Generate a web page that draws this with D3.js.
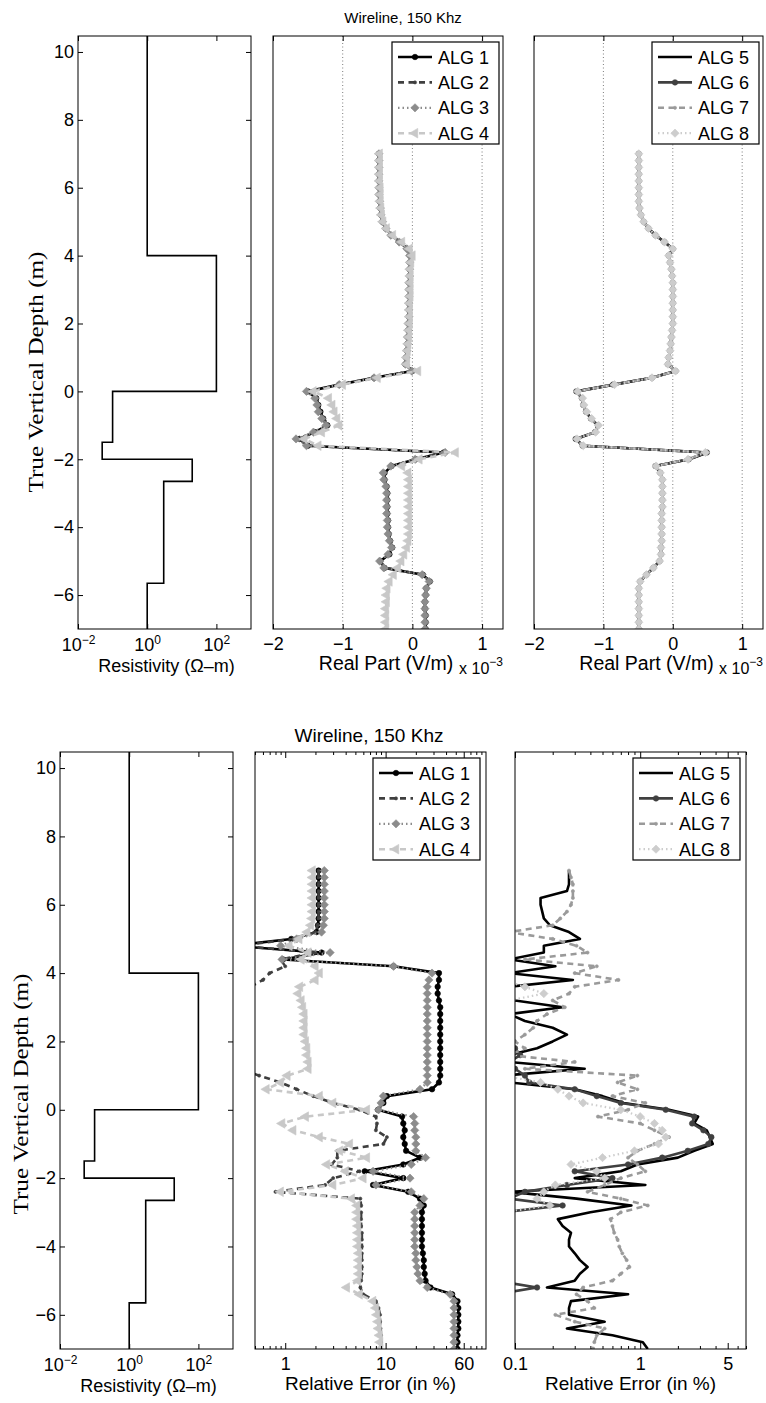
<!DOCTYPE html>
<html>
<head>
<meta charset="utf-8">
<script src="https://cdnjs.cloudflare.com/ajax/libs/d3/7.8.5/d3.min.js"></script>
<style>
  body { margin: 0; background: #fff; }
  svg text { font-family: "Liberation Sans", Arial, Helvetica, sans-serif; fill: #000; }
</style>
</head>
<body>
<svg id="chart" width="766" height="1403"></svg>
<script>
// ---- data ----
const depth = [
  7, 6.8, 6.6, 6.4, 6.2, 6, 5.8, 5.6, 5.4, 5.2,
  5, 4.8, 4.6, 4.4, 4.2, 4, 3.8, 3.6, 3.4, 3.2,
  3, 2.8, 2.6, 2.4, 2.2, 2, 1.8, 1.6, 1.4, 1.2,
  1, 0.8, 0.6, 0.4, 0.2, 0, -0.2, -0.4, -0.6, -0.8,
  -1, -1.2, -1.4, -1.6, -1.8, -2, -2.2, -2.4, -2.6, -2.8,
  -3, -3.2, -3.4, -3.6, -3.8, -4, -4.2, -4.4, -4.6, -4.8,
  -5, -5.2, -5.4, -5.6, -5.8, -6, -6.2, -6.4, -6.6, -6.8,
  -7
];

// resistivity model (layer tops / bottoms in m, resistivity in ohm-m)
const layerTop = [10.5, 4, 0, -1.5, -2, -2.65, -5.65];
const layerBottom = [4, 0, -1.5, -2, -2.65, -5.65, -7];
const layerRes = [1, 100, 0.1, 0.05, 20, 3, 1];

// real part, x 10^-3 V/m
const realAlg1 = [
  -0.48,-0.48,-0.48,-0.48,-0.48,-0.47,-0.47,-0.47,-0.46,-0.45,
  -0.43,-0.38,-0.3,-0.18,-0.07,-0.03,-0.03,-0.04,-0.04,-0.04,
  -0.04,-0.04,-0.05,-0.05,-0.05,-0.05,-0.06,-0.06,-0.07,-0.08,
  -0.09,-0.1,0.0,-0.55,-1.05,-1.5,-1.38,-1.35,-1.32,-1.28,
  -1.22,-1.4,-1.62,-1.5,0.45,0.05,-0.3,-0.4,-0.4,-0.37,
  -0.36,-0.36,-0.36,-0.36,-0.35,-0.35,-0.34,-0.32,-0.29,-0.33,
  -0.46,-0.4,0.15,0.25,0.2,0.19,0.18,0.18,0.19,0.19,
  0.19
];
const realAlg2 = [
  -0.48,-0.48,-0.48,-0.48,-0.48,-0.48,-0.47,-0.47,-0.46,-0.45,
  -0.42,-0.37,-0.3,-0.18,-0.07,-0.03,-0.03,-0.04,-0.04,-0.04,
  -0.04,-0.04,-0.05,-0.05,-0.05,-0.05,-0.06,-0.06,-0.07,-0.08,
  -0.09,-0.1,0.0,-0.54,-1.04,-1.49,-1.37,-1.35,-1.32,-1.27,
  -1.21,-1.41,-1.63,-1.49,0.46,0.06,-0.29,-0.4,-0.4,-0.37,
  -0.36,-0.36,-0.36,-0.36,-0.35,-0.35,-0.34,-0.32,-0.3,-0.34,
  -0.46,-0.39,0.15,0.25,0.2,0.19,0.18,0.18,0.19,0.19,
  0.19
];
const realAlg3 = [
  -0.48,-0.48,-0.48,-0.48,-0.48,-0.48,-0.48,-0.47,-0.46,-0.45,
  -0.43,-0.38,-0.31,-0.19,-0.08,-0.04,-0.04,-0.04,-0.04,-0.05,
  -0.05,-0.05,-0.05,-0.05,-0.05,-0.06,-0.06,-0.07,-0.07,-0.08,
  -0.09,-0.1,-0.01,-0.55,-1.05,-1.52,-1.4,-1.37,-1.35,-1.3,
  -1.24,-1.42,-1.67,-1.52,0.47,0.04,-0.31,-0.42,-0.41,-0.38,
  -0.37,-0.37,-0.37,-0.37,-0.36,-0.36,-0.35,-0.33,-0.3,-0.35,
  -0.47,-0.41,0.14,0.24,0.2,0.19,0.18,0.18,0.18,0.18,
  0.18
];
const realAlg4 = [
  -0.47,-0.47,-0.47,-0.47,-0.47,-0.46,-0.46,-0.46,-0.45,-0.44,
  -0.42,-0.37,-0.28,-0.15,-0.04,0.0,-0.02,-0.03,-0.03,-0.03,
  -0.03,-0.03,-0.04,-0.04,-0.04,-0.04,-0.05,-0.05,-0.06,-0.07,
  -0.08,-0.08,0.08,-0.5,-1.0,-1.42,-1.2,-1.15,-1.12,-1.08,
  -1.05,-1.3,-1.55,-1.35,0.62,0.1,-0.15,-0.06,-0.05,-0.05,
  -0.05,-0.05,-0.05,-0.05,-0.05,-0.05,-0.05,-0.06,-0.08,-0.12,
  -0.16,-0.21,-0.27,-0.33,-0.36,-0.37,-0.37,-0.38,-0.38,-0.38,
  -0.38
];
const realAlg5 = [
  -0.49,-0.49,-0.49,-0.49,-0.49,-0.49,-0.49,-0.49,-0.48,-0.46,
  -0.42,-0.35,-0.25,-0.12,0.0,-0.06,-0.04,-0.02,-0.01,0.0,
  0.0,0.0,0.0,0.0,0.0,0.0,-0.01,-0.02,-0.03,-0.04,
  -0.06,-0.07,0.04,-0.3,-0.85,-1.38,-1.31,-1.29,-1.25,-1.18,
  -1.08,-1.12,-1.39,-1.3,0.5,0.24,-0.25,-0.18,-0.15,-0.15,
  -0.15,-0.15,-0.15,-0.16,-0.16,-0.16,-0.16,-0.16,-0.17,-0.17,
  -0.19,-0.28,-0.38,-0.47,-0.49,-0.49,-0.49,-0.49,-0.49,-0.49,
  -0.49
];
const realAlg6 = [
  -0.49,-0.49,-0.49,-0.49,-0.49,-0.49,-0.49,-0.49,-0.48,-0.46,
  -0.42,-0.35,-0.25,-0.12,0.0,-0.06,-0.04,-0.02,-0.01,0.0,
  0.0,0.0,0.0,0.0,0.0,0.0,-0.01,-0.02,-0.03,-0.04,
  -0.06,-0.07,0.04,-0.3,-0.86,-1.39,-1.31,-1.29,-1.25,-1.18,
  -1.08,-1.12,-1.4,-1.3,0.49,0.23,-0.25,-0.18,-0.15,-0.15,
  -0.15,-0.15,-0.15,-0.16,-0.16,-0.16,-0.16,-0.16,-0.17,-0.17,
  -0.19,-0.28,-0.38,-0.47,-0.49,-0.49,-0.49,-0.49,-0.49,-0.49,
  -0.49
];
const realAlg7 = [
  -0.49,-0.49,-0.49,-0.49,-0.49,-0.49,-0.49,-0.49,-0.48,-0.46,
  -0.42,-0.35,-0.26,-0.13,0.0,-0.06,-0.04,-0.02,-0.01,0.0,
  0.0,0.0,0.0,0.0,0.0,0.0,-0.01,-0.02,-0.03,-0.04,
  -0.06,-0.07,0.04,-0.3,-0.85,-1.38,-1.31,-1.29,-1.25,-1.18,
  -1.08,-1.12,-1.39,-1.3,0.48,0.22,-0.24,-0.18,-0.15,-0.15,
  -0.15,-0.15,-0.15,-0.16,-0.16,-0.16,-0.16,-0.16,-0.17,-0.17,
  -0.19,-0.28,-0.38,-0.47,-0.49,-0.49,-0.49,-0.49,-0.49,-0.49,
  -0.49
];
const realAlg8 = [
  -0.49,-0.49,-0.49,-0.49,-0.49,-0.49,-0.49,-0.49,-0.48,-0.46,
  -0.42,-0.35,-0.25,-0.12,0.0,-0.06,-0.04,-0.02,-0.01,0.0,
  0.0,0.0,0.0,0.0,0.0,0.0,-0.01,-0.02,-0.03,-0.04,
  -0.06,-0.07,0.04,-0.3,-0.84,-1.37,-1.3,-1.28,-1.24,-1.17,
  -1.07,-1.11,-1.38,-1.29,0.47,0.22,-0.24,-0.18,-0.15,-0.15,
  -0.15,-0.15,-0.15,-0.16,-0.16,-0.16,-0.16,-0.16,-0.17,-0.17,
  -0.19,-0.28,-0.38,-0.47,-0.49,-0.49,-0.49,-0.49,-0.49,-0.49,
  -0.49
];

// relative error, %
const errAlg1 = [
  2.15,2.15,2.15,2.15,2.15,2.15,2.15,2.15,2.12,2.05,
  1.15,0.3,2.3,0.95,12,34,34,33,33,34,
  35,35,35,35,35,35,35,35,35,35,
  35,34,29,10.3,9.5,8.4,14.6,15,15.5,15,
  15.5,16,22,15,6.2,15,7.5,16.8,22,24,
  23,23,23,23,23,23,23.5,24,24,24.5,
  25,28,46,52,53,53,53,53,52,52,
  52
];
const errAlg2 = [
  2.15,2.15,2.15,2.15,2.15,2.15,2.15,2.15,2.1,2.0,
  1.2,0.35,2.0,0.9,1.0,0.7,0.6,0.45,0.35,0.3,
  0.3,0.3,0.3,0.3,0.3,0.3,0.3,0.3,0.3,0.35,
  0.55,0.9,1.3,1.9,3.0,5.5,8.0,8.2,8.0,10.3,
  9.5,3.3,3.3,2.9,5.5,3.0,2.5,0.8,5.6,5.7,
  5.7,5.7,5.7,5.8,5.8,5.8,5.8,5.8,5.8,5.8,
  5.7,5.6,6.0,8.0,8.5,8.8,8.8,8.9,9.0,9.0,
  9.0
];
const errAlg3 = [
  2.45,2.45,2.45,2.45,2.45,2.45,2.45,2.45,2.4,2.3,
  1.3,0.9,2.8,0.93,12,29,27,26,26,26,
  26,26,26,26,26,26,26,26,26,26,
  26,26,22,9.5,9,8.5,19,19.5,19.5,20,
  20,20,25,18,7.5,17.5,8,18,24,22,
  19.5,19.5,19.5,19.5,19.5,19.5,20,20,20.5,21,
  22,26,44,48,48,48,48,48,48,48,
  48
];
const errAlg4 = [
  1.87,1.87,1.87,1.87,1.87,1.87,1.87,1.85,1.8,1.66,
  1.38,1.1,1.7,1.45,2.0,2.2,2.0,1.4,1.35,1.45,
  1.5,1.55,1.55,1.55,1.55,1.6,1.65,1.65,1.7,1.7,
  1.05,0.9,0.65,2.2,3.0,6.5,1.6,0.93,1.2,2.2,
  4.4,3.5,6.5,2.6,4.0,6.0,3.0,0.9,4.6,5.2,
  5.2,5.2,5.3,5.3,5.3,5.3,5.4,5.4,5.4,5.4,
  5.3,4.1,5.5,7.5,8.0,8.2,8.4,8.5,8.7,8.8,
  8.8
];
const errAlg5 = [
  0.27,0.27,0.27,0.26,0.16,0.16,0.165,0.17,0.19,0.27,
  0.33,0.17,0.17,0.09,0.21,0.09,0.29,0.09,0.08,0.1,
  0.24,0.09,0.12,0.2,0.26,0.2,0.15,0.09,0.09,0.36,
  0.08,0.09,0.3,0.5,0.74,1.7,2.9,2.7,3.4,3.6,
  3.8,2.7,2.0,0.95,0.7,0.3,1.1,0.09,0.31,0.85,
  0.4,0.22,0.24,0.28,0.27,0.27,0.3,0.33,0.38,0.33,
  0.3,0.18,0.8,0.28,0.27,0.27,0.52,0.26,0.6,1.05,
  1.15
];
const errAlg6 = [
  0.07,0.07,0.07,0.07,0.07,0.07,0.07,0.07,0.07,0.07,
  0.07,0.07,0.07,0.07,0.07,0.07,0.07,0.07,0.07,0.07,
  0.07,0.07,0.07,0.07,0.07,0.08,0.1,0.11,0.09,0.1,
  0.12,0.13,0.3,0.45,0.7,1.6,2.7,2.6,3.2,3.7,
  3.5,2.4,1.5,0.8,0.3,0.6,0.26,0.12,0.09,0.24,
  0.08,0.07,0.07,0.07,0.07,0.07,0.07,0.07,0.07,0.07,
  0.07,0.15,0.07,0.07,0.07,0.07,0.07,0.07,0.07,0.07,
  0.07
];
const errAlg7 = [
  0.27,0.28,0.29,0.29,0.29,0.28,0.26,0.23,0.2,0.09,
  0.2,0.31,0.38,0.12,0.45,0.3,0.67,0.3,0.27,0.2,
  0.25,0.18,0.15,0.14,0.12,0.1,0.12,0.09,0.3,0.12,
  0.95,0.66,0.95,0.6,1.1,0.8,0.46,1.0,1.3,1.7,
  1.3,0.95,0.8,0.95,1.1,0.7,0.52,0.38,0.7,1.15,
  0.7,0.58,0.6,0.62,0.66,0.68,0.72,0.78,0.82,0.7,
  0.6,0.35,0.31,0.38,0.43,0.21,0.3,0.52,0.45,0.43,
  0.42
];
const errAlg8 = [
  0.07,0.07,0.07,0.07,0.07,0.07,0.07,0.07,0.07,0.07,
  0.07,0.07,0.07,0.07,0.07,0.07,0.08,0.12,0.17,0.09,
  0.08,0.07,0.07,0.07,0.07,0.07,0.07,0.07,0.07,0.07,
  0.08,0.16,0.22,0.27,0.35,0.7,1.0,1.3,1.5,1.6,
  1.4,0.9,0.5,0.28,0.45,0.52,0.21,0.17,0.15,0.19,
  0.08,0.07,0.07,0.07,0.07,0.07,0.07,0.07,0.07,0.07,
  0.07,0.07,0.07,0.07,0.07,0.07,0.07,0.07,0.07,0.07,
  0.07
];

// ticks
const depthTicks = [-6, -4, -2, 0, 2, 4, 6, 8, 10];
const resTicks = [0.01, 1, 100];
const resTickExp = ["\u22122", "0", "2"];
const realTicks = [-2, -1, 0, 1];
const realGrid = [-1, 0, 1];
const errMidTicks = [1, 10, 60];
const errMidMinor = [0.5, 0.6, 0.7, 0.8, 0.9, 2, 3, 4, 5, 6, 7, 8, 9, 20, 30, 40, 50, 70, 80, 90];
const errRightTicks = [0.1, 1, 5];
const errRightMinor = [0.2, 0.3, 0.4, 0.5, 0.6, 0.7, 0.8, 0.9, 2, 3, 4, 6, 7];
const namesLeft = ["ALG 1", "ALG 2", "ALG 3", "ALG 4"];
const namesRight = ["ALG 5", "ALG 6", "ALG 7", "ALG 8"];

// ---- styles ----
const algStyle = {
  "ALG 1": { stroke: "#000000", width: 2.6, dash: null, marker: "circle", size: 24, fill: "#000000", rot: 0 },
  "ALG 2": { stroke: "#3f3f3f", width: 2.6, dash: "6,4.5", marker: "circle", size: 8, fill: "#3f3f3f", rot: 0 },
  "ALG 3": { stroke: "#8c8c8c", width: 2.2, dash: "1.5,3", marker: "square", size: 34, fill: "#8c8c8c", rot: 45 },
  "ALG 4": { stroke: "#c8c8c8", width: 2.6, dash: "6,4.5", marker: "triangle", size: 40, fill: "#c8c8c8", rot: -90 },
  "ALG 5": { stroke: "#000000", width: 2.6, dash: null, marker: null },
  "ALG 6": { stroke: "#404040", width: 2.6, dash: null, marker: "circle", size: 24, fill: "#404040", rot: 0 },
  "ALG 7": { stroke: "#9a9a9a", width: 2.6, dash: "6,4.5", marker: "circle", size: 8, fill: "#9a9a9a", rot: 0 },
  "ALG 8": { stroke: "#cdcdcd", width: 2.2, dash: "1.5,3", marker: "square", size: 34, fill: "#cdcdcd", rot: 45 }
};
const symbols = { circle: d3.symbolCircle, square: d3.symbolSquare, triangle: d3.symbolTriangle };

const svg = d3.select("#chart");
const rows = [
  { top: 36, bottom: 629, title: 15, titleX: 403, titleY: 23, ylabX: 43, ylabY: 372, res: [78, 251], mid: [273, 503], right: [534, 763] },
  { top: 752, bottom: 1349, title: 19, titleX: 369, titleY: 742, ylabX: 28, ylabY: 1094, res: [60, 233], mid: [255, 486], right: [515, 746] }
];

let clipN = 0;
function clipFor(x0, x1, r) {
  const id = "clip" + (clipN++);
  svg.append("clipPath").attr("id", id).append("rect")
    .attr("x", x0).attr("y", r.top).attr("width", x1 - x0).attr("height", r.bottom - r.top);
  return "url(#" + id + ")";
}

function box(x0, x1, r) {
  svg.append("rect").attr("x", x0).attr("y", r.top).attr("width", x1 - x0).attr("height", r.bottom - r.top)
    .attr("fill", "none").attr("stroke", "#000").attr("stroke-width", 1);
}

function xAxes(x, r, major, minor, fmt, len) {
  const bottom = svg.append("g").attr("transform", `translate(0,${r.bottom})`)
    .call(d3.axisBottom(x).tickValues(major).tickSize(-len).tickPadding(8).tickFormat(fmt || ""));
  bottom.select(".domain").remove();
  bottom.selectAll("text").attr("font-size", 18);
  svg.append("g").attr("transform", `translate(0,${r.top})`)
    .call(d3.axisTop(x).tickValues(major).tickSize(-len).tickFormat(""))
    .select(".domain").remove();
  if (minor) {
    svg.append("g").attr("transform", `translate(0,${r.bottom})`)
      .call(d3.axisBottom(x).tickValues(minor).tickSize(-3).tickFormat(""))
      .select(".domain").remove();
    svg.append("g").attr("transform", `translate(0,${r.top})`)
      .call(d3.axisTop(x).tickValues(minor).tickSize(-3).tickFormat(""))
      .select(".domain").remove();
  }
  return bottom;
}

function drawSeries(g, x, y, values, name) {
  const st = algStyle[name];
  const pts = depth.map((d, i) => [values[i], d]);
  g.append("path").datum(pts)
    .attr("d", d3.line().x(p => x(p[0])).y(p => y(p[1])))
    .attr("fill", "none").attr("stroke", st.stroke).attr("stroke-width", st.width)
    .attr("stroke-dasharray", st.dash).attr("stroke-linejoin", "round");
  if (st.marker) {
    const sym = d3.symbol(symbols[st.marker], st.size);
    g.append("g").selectAll("path").data(pts).join("path")
      .attr("transform", p => `translate(${x(p[0])},${y(p[1])}) rotate(${st.rot})`)
      .attr("d", sym).attr("fill", st.fill).attr("stroke", st.stroke).attr("stroke-width", 0.6);
  }
}

function legend(x0, y0, names) {
  const w = 107, h = 102;
  const g = svg.append("g");
  g.append("rect").attr("x", x0).attr("y", y0).attr("width", w).attr("height", h)
    .attr("fill", "#fff").attr("stroke", "#000").attr("stroke-width", 1.2);
  names.forEach((n, i) => {
    const st = algStyle[n];
    const cy = y0 + 15 + i * 25.4;
    g.append("line").attr("x1", x0 + 6).attr("x2", x0 + 40).attr("y1", cy).attr("y2", cy)
      .attr("stroke", st.stroke).attr("stroke-width", st.width).attr("stroke-dasharray", st.dash);
    if (st.marker) {
      g.append("path").attr("d", d3.symbol(symbols[st.marker], st.size)())
        .attr("transform", `translate(${x0 + 23},${cy}) rotate(${st.rot})`)
        .attr("fill", st.fill).attr("stroke", st.stroke).attr("stroke-width", 0.6);
    }
    g.append("text").attr("x", x0 + 46).attr("y", cy + 6.5).attr("font-size", 18).text(n);
  });
}

function resPanel(r) {
  const y = d3.scaleLinear().domain([-7, 10.47]).range([r.bottom, r.top]);
  const x = d3.scaleLog().domain([0.01, 1000]).range(r.res);
  const pts = [];
  layerRes.forEach((v, i) => { pts.push([v, layerTop[i]]); pts.push([v, layerBottom[i]]); });
  svg.append("path").datum(pts).attr("clip-path", clipFor(r.res[0], r.res[1], r))
    .attr("d", d3.line().x(p => x(p[0])).y(p => y(p[1])))
    .attr("fill", "none").attr("stroke", "#000").attr("stroke-width", 1.6);
  const left = svg.append("g").attr("transform", `translate(${r.res[0]},0)`)
    .call(d3.axisLeft(y).tickValues(depthTicks).tickSize(-5).tickPadding(4).tickFormat(d3.format("d")));
  left.select(".domain").remove();
  left.selectAll("text").attr("font-size", 18);
  svg.append("g").attr("transform", `translate(${r.res[1]},0)`)
    .call(d3.axisRight(y).tickValues(depthTicks).tickSize(-5).tickFormat(""))
    .select(".domain").remove();
  const ax = xAxes(x, r, resTicks, null, null, 5);
  ax.selectAll(".tick").each(function (d, i) {
    const t = d3.select(this).append("text").attr("y", 22).attr("text-anchor", "middle").attr("font-size", 18);
    t.append("tspan").text("10");
    t.append("tspan").attr("dy", -7.5).attr("font-size", 12).text(resTickExp[i]);
  });
  box(r.res[0], r.res[1], r);
  svg.append("text").attr("x", (r.res[0] + r.res[1]) / 2 + 2).attr("y", r.bottom + 43)
    .attr("text-anchor", "middle").attr("font-size", 18).text("Resistivity (\u03A9\u2013m)");
  svg.append("text").attr("transform", `translate(${r.ylabX},${r.ylabY}) rotate(-90)`)
    .attr("text-anchor", "middle").attr("font-size", 20).attr("textLength", 241)
    .attr("lengthAdjust", "spacingAndGlyphs")
    .style("font-family", "'Liberation Serif', 'DejaVu Serif', serif")
    .text("True Vertical Depth (m)");
}

function realPanel(r, xr, series, names) {
  const y = d3.scaleLinear().domain([-7, 10.47]).range([r.bottom, r.top]);
  const x = d3.scaleLinear().domain([-2, 1.3]).range(xr);
  svg.append("g").selectAll("line").data(realGrid).join("line")
    .attr("x1", d => x(d)).attr("x2", d => x(d)).attr("y1", r.top).attr("y2", r.bottom)
    .attr("stroke", "#444").attr("stroke-width", 0.7).attr("stroke-dasharray", "1,2.5");
  const g = svg.append("g").attr("clip-path", clipFor(xr[0], xr[1], r));
  series.forEach((s, i) => drawSeries(g, x, y, s, names[i]));
  xAxes(x, r, realTicks, null, d3.format("d"), 5);
  box(xr[0], xr[1], r);
  legend(xr[1] - 111, r.top + 6, names);
  svg.append("text").attr("x", (xr[0] + xr[1]) / 2 - 2).attr("y", r.bottom + 41)
    .attr("text-anchor", "middle").attr("font-size", 19.5).text("Real Part (V/m)");
  const e = svg.append("text").attr("x", xr[1]).attr("y", r.bottom + 45).attr("text-anchor", "end").attr("font-size", 16);
  e.append("tspan").text("x 10");
  e.append("tspan").attr("dy", -8).attr("font-size", 12).text("\u22123");
}

function errPanel(r, xr, domain, major, minor, series, names) {
  const y = d3.scaleLinear().domain([-7, 10.47]).range([r.bottom, r.top]);
  const x = d3.scaleLog().domain(domain).range(xr);
  const g = svg.append("g").attr("clip-path", clipFor(xr[0], xr[1], r));
  series.forEach((s, i) => drawSeries(g, x, y, s, names[i]));
  xAxes(x, r, major, minor, d3.format("~g"), 6);
  box(xr[0], xr[1], r);
  legend(xr[1] - 113, r.top + 6, names);
  svg.append("text").attr("x", (xr[0] + xr[1]) / 2).attr("y", r.bottom + 41)
    .attr("text-anchor", "middle").attr("font-size", 19).text("Relative Error (in %)");
}

// top figure
resPanel(rows[0]);
realPanel(rows[0], rows[0].mid, [realAlg1, realAlg2, realAlg3, realAlg4], namesLeft);
realPanel(rows[0], rows[0].right, [realAlg5, realAlg6, realAlg7, realAlg8], namesRight);
svg.append("text").attr("x", rows[0].titleX).attr("y", rows[0].titleY).attr("text-anchor", "middle")
  .attr("font-size", rows[0].title).text("Wireline, 150 Khz");

// bottom figure
resPanel(rows[1]);
errPanel(rows[1], rows[1].mid, [0.5, 100], errMidTicks, errMidMinor, [errAlg1, errAlg2, errAlg3, errAlg4], namesLeft);
errPanel(rows[1], rows[1].right, [0.1, 7], errRightTicks, errRightMinor, [errAlg5, errAlg6, errAlg7, errAlg8], namesRight);
svg.append("text").attr("x", rows[1].titleX).attr("y", rows[1].titleY).attr("text-anchor", "middle")
  .attr("font-size", rows[1].title).text("Wireline, 150 Khz");
</script>
</body>
</html>
